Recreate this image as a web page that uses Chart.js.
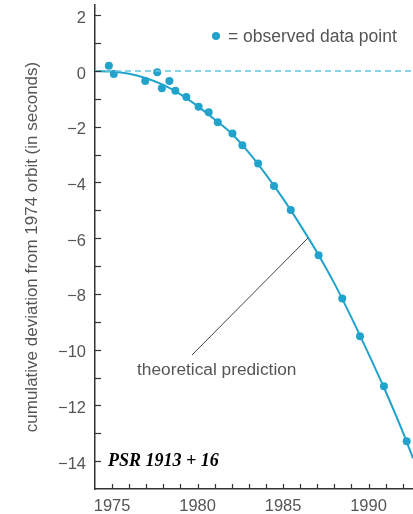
<!DOCTYPE html>
<html>
<head>
<meta charset="utf-8">
<script src="https://cdn.jsdelivr.net/npm/chart.js@4.4.0/dist/chart.umd.min.js"></script>
<style>
  body { margin: 0; background: #fff; overflow: hidden; }
  #wrap { width: 413px; height: 514px; }
  canvas { display: block; }
</style>
</head>
<body>
<div id="wrap"><canvas id="pulsarChart" width="413" height="514"></canvas></div>
<script>
// observed data points (year, cumulative shift in s)
const obsYears = [1974.81, 1975.10, 1976.94, 1977.64, 1977.91, 1978.35, 1978.70, 1979.34, 1980.06, 1980.65,
                  1981.18, 1982.04, 1982.62, 1983.54, 1984.47, 1985.45, 1987.08, 1988.46, 1989.50, 1990.90, 1992.23];
const obsShift = [0.19, -0.11, -0.36, -0.04, -0.62, -0.36, -0.71, -0.93, -1.28, -1.48,
                  -1.84, -2.24, -2.66, -3.32, -4.13, -4.99, -6.61, -8.16, -9.52, -11.31, -13.29];

// theoretical prediction curve
const theoryYears = [1974, 1975, 1976, 1977, 1978, 1979, 1980, 1981, 1982, 1983, 1984,
                     1985, 1986, 1987, 1988, 1989, 1990, 1991, 1992, 1992.6];
const theoryShift = [0, -0.02, -0.1, -0.26, -0.5, -0.84, -1.26, -1.74, -2.25, -2.93, -3.72,
                     -4.58, -5.52, -6.52, -7.62, -8.85, -10.15, -11.5, -12.95, -13.9];

const xLabelYears = [1975, 1980, 1985, 1990];
const yLabelValues = [2, 0, -2, -4, -6, -8, -10, -12, -14];

const X_MIN = 1974, X_MAX = 1992.6;
const Y_MIN = -15, Y_MAX = 2.37;

const CYAN = '#22a3cc';
const TEXT = '#555';
const FONT = '"Liberation Sans", Arial, sans-serif';

const obsPoints = obsYears.map((x, i) => ({ x: x, y: obsShift[i] }));
const theoryPoints = theoryYears.map((x, i) => ({ x: x, y: theoryShift[i] }));

const extras = {
    id: 'extras',
    afterDraw(chart) {
        const ctx = chart.ctx;
        const xs = chart.scales.x, ys = chart.scales.y;
        const area = chart.chartArea;
        ctx.save();
        // inner tick marks
        ctx.strokeStyle = '#333';
        ctx.lineWidth = 1.2;
        for (let v = -14; v <= 2; v++) {
            const py = Math.round(ys.getPixelForValue(v)) + 0.5;
            ctx.beginPath();
            ctx.moveTo(area.left, py);
            ctx.lineTo(area.left + 6, py);
            ctx.stroke();
        }
        for (let yr = 1975; yr <= 1992; yr++) {
            const px = Math.round(xs.getPixelForValue(yr)) + 0.5;
            ctx.beginPath();
            ctx.moveTo(px, area.bottom);
            ctx.lineTo(px, area.bottom - 5);
            ctx.stroke();
        }

        // y axis title
        ctx.fillStyle = TEXT;
        ctx.font = '17px ' + FONT;
        ctx.textAlign = 'center';
        ctx.textBaseline = 'middle';
        ctx.save();
        ctx.translate(32, 247);
        ctx.rotate(-Math.PI / 2);
        ctx.fillText('cumulative deviation from 1974 orbit (in seconds)', 0, 0);
        ctx.restore();

        // legend
        ctx.fillStyle = CYAN;
        ctx.beginPath();
        ctx.arc(216, 36, 4, 0, Math.PI * 2);
        ctx.fill();
        ctx.fillStyle = TEXT;
        ctx.font = '17.5px ' + FONT;
        ctx.textAlign = 'left';
        ctx.fillText('= observed data point', 228, 37);

        // annotation
        ctx.strokeStyle = '#444';
        ctx.lineWidth = 1;
        ctx.beginPath();
        ctx.moveTo(192, 355);
        ctx.lineTo(308, 238);
        ctx.stroke();
        ctx.font = '17.3px ' + FONT;
        ctx.fillText('theoretical prediction', 137, 370);

        // pulsar label
        ctx.fillStyle = '#000';
        ctx.font = 'italic bold 18px "Liberation Serif", "Times New Roman", serif';
        ctx.fillText('PSR 1913 + 16', 108, 461);
        ctx.restore();
    }
};

new Chart(document.getElementById('pulsarChart'), {
    type: 'scatter',
    data: {
        datasets: [
            {
                label: 'zero',
                data: [{ x: X_MIN, y: 0 }, { x: X_MAX, y: 0 }],
                showLine: true,
                borderColor: '#66c3dc',
                borderWidth: 1.5,
                borderDash: [6, 4],
                pointRadius: 0
            },
            {
                label: 'theoretical prediction',
                data: theoryPoints,
                showLine: true,
                borderColor: CYAN,
                borderWidth: 2,
                cubicInterpolationMode: 'monotone',
                pointRadius: 0
            },
            {
                label: 'observed data point',
                data: obsPoints,
                backgroundColor: CYAN,
                borderColor: CYAN,
                pointRadius: 4,
                pointBorderWidth: 0
            }
        ]
    },
    options: {
        responsive: false,
        animation: false,
        layout: { autoPadding: false, padding: { top: 5, right: 0, left: 0, bottom: 0 } },
        plugins: { legend: { display: false }, tooltip: { enabled: false } },
        scales: {
            x: {
                type: 'linear',
                min: X_MIN,
                max: X_MAX,
                afterFit(s) {
                    s.height = 25;
                    s.paddingLeft = 0;
                    s.paddingRight = 0;
                },
                afterBuildTicks(s) { s.ticks = xLabelYears.map(v => ({ value: v })); },
                grid: { display: false, drawTicks: false },
                border: { display: true, color: '#333', width: 1.5 },
                ticks: {
                    padding: 8,
                    color: TEXT,
                    font: { family: FONT, size: 16.5 },
                    maxRotation: 0,
                    autoSkip: false,
                    callback: v => String(v)
                }
            },
            y: {
                min: Y_MIN,
                max: Y_MAX,
                afterFit(s) {
                    s.width = 95;
                    s.paddingTop = 0;
                    s.paddingBottom = 0;
                },
                afterBuildTicks(s) { s.ticks = yLabelValues.map(v => ({ value: v })); },
                grid: { display: false, drawTicks: false },
                border: { display: true, color: '#333', width: 1.5 },
                ticks: {
                    padding: 9,
                    labelOffset: 3,
                    color: TEXT,
                    font: { family: FONT, size: 16.5 },
                    autoSkip: false,
                    callback: v => (v < 0 ? '\u2212' + Math.abs(v) : String(v))
                }
            }
        }
    },
    plugins: [extras]
});
</script>
</body>
</html>
